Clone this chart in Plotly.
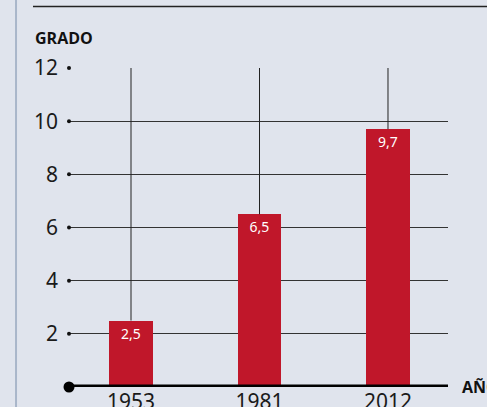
import plotly.graph_objects as go

years = ["1953", "1981", "2012"]
values = [2.5, 6.5, 9.7]
value_labels = ["2,5", "6,5", "9,7"]
y_ticks = [2, 4, 6, 8, 10, 12]
y_max = 12

bg = "#e0e4ed"
red = "#c0172a"
font = "Noto Sans"
label_font = "Liberation Sans Narrow, Arial Narrow, Open Sans"

fig = go.Figure()

# vertical connector lines from bar tops to the top gridline
for yr, v in zip(years, values):
    fig.add_trace(go.Scatter(x=[yr, yr], y=[v, y_max], mode="lines",
                             line=dict(color="#222222", width=1),
                             hoverinfo="skip", showlegend=False))

fig.add_trace(go.Bar(x=years, y=values, marker=dict(color=red, line=dict(width=0)),
                     width=0.335, text=value_labels, textposition="inside",
                     insidetextanchor="end",
                     textfont=dict(color="white", size=14, family=font),
                     showlegend=False))

x_lo, x_hi = -0.4825, 2.467

# dots at the start of each gridline
fig.add_trace(go.Scatter(x=[x_lo] * len(y_ticks), y=y_ticks, mode="markers",
                         marker=dict(color="#111111", size=4),
                         cliponaxis=False, hoverinfo="skip", showlegend=False,
                         xaxis="x2"))
fig.add_trace(go.Scatter(x=[x_lo], y=[0], mode="markers",
                         marker=dict(color="#000000", size=11),
                         cliponaxis=False, hoverinfo="skip", showlegend=False,
                         xaxis="x2"))

fig.update_layout(
    width=487, height=407,
    margin=dict(l=69, r=39, t=68, b=20),
    paper_bgcolor=bg, plot_bgcolor=bg,
    font=dict(family=font, color="#1a1a1a"),
    bargap=0,
    xaxis=dict(type="category", range=[x_lo, x_hi], showgrid=False,
               zeroline=False, showline=False, ticks="", automargin=False,
               tickfont=dict(size=21, color="#1a1a1a")),
    xaxis2=dict(range=[x_lo, x_hi], overlaying="x", visible=False),
    yaxis=dict(range=[0, y_max], tickvals=y_ticks, ticktext=[str(t) for t in y_ticks],
               showgrid=True, gridcolor="#333333", gridwidth=1,
               zeroline=False, showline=False, ticks="", automargin=False,
               ticklabelstandoff=10,
               tickfont=dict(size=21, color="#1a1a1a")),
    shapes=[
        dict(type="line", xref="paper", yref="y", x0=0, x1=1, y0=0, y1=0,
             line=dict(color="#000000", width=5)),
        dict(type="line", xref="paper", yref="paper", x0=-0.095, x1=1.2,
             y0=1.1928, y1=1.1928, line=dict(color="#222222", width=1.5)),
        dict(type="line", xref="paper", yref="paper", x0=-0.1398, x1=-0.1398,
             y0=-0.2, y1=1.3, line=dict(color="#a9b6ca", width=2)),
    ],
    annotations=[
        dict(text="<b>GRADO</b>", xref="paper", yref="paper", x=-0.095, y=1.094,
             xanchor="left", yanchor="middle", showarrow=False,
             font=dict(size=16, family=label_font, color="#111111")),
        dict(text="<b>AÑO</b>", xref="paper", yref="paper", x=1.0317, y=0,
             xanchor="left", yanchor="middle", showarrow=False,
             font=dict(size=16, family=label_font, color="#111111")),
    ],
)

fig.write_html("out.html", config={"displayModeBar": False},
               post_script="document.body.style.margin='0';"
                           "document.body.style.background='" + bg + "';")
